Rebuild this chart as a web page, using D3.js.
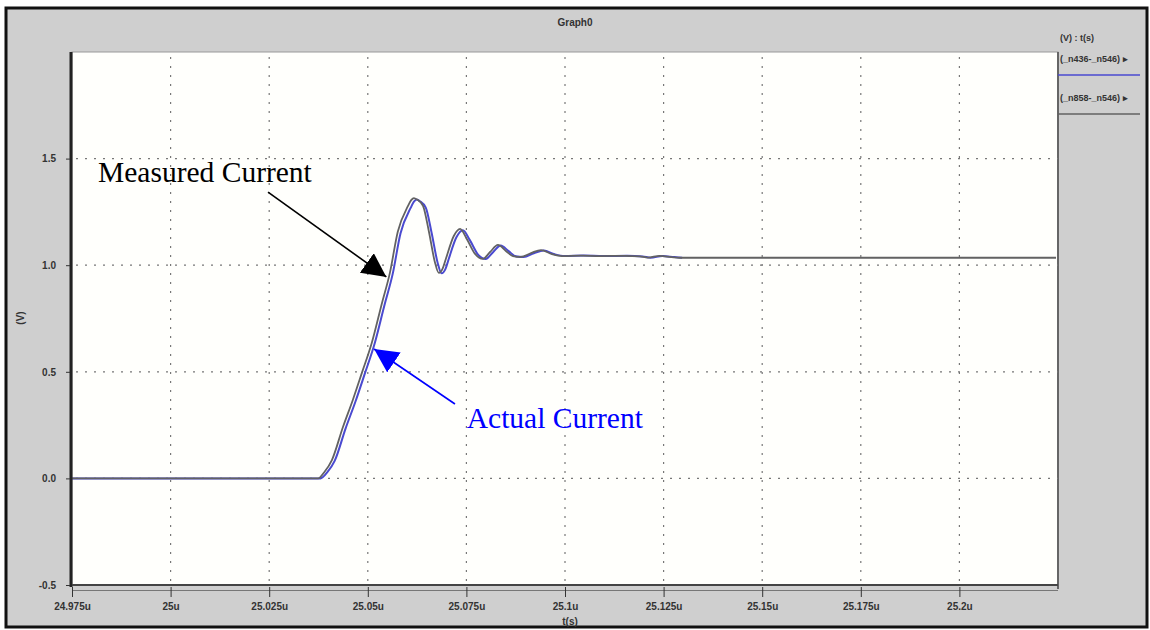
<!DOCTYPE html>
<html lang="en">
<head>
    <meta charset="UTF-8"/>
    <title>Graph0</title>
    <script src="https://d3js.org/d3.v7.min.js"></script>
    <style>
        body { margin: 0; background: white; }
        .tick-label { font-family: "Liberation Sans", Arial, sans-serif; font-size: 10px; font-weight: bold; fill: #333; }
        .note { font-family: "Liberation Serif", "Times New Roman", serif; font-size: 29.5px; }
    </style>
</head>
<body>
<svg id="chart" width="1150" height="630"></svg>
<script>
    // x tick values (microseconds) and their labels
    const xTicks = [24.975, 25.0, 25.025, 25.05, 25.075, 25.1, 25.125, 25.15, 25.175, 25.2];
    const xLabels = ["24.975u", "25u", "25.025u", "25.05u", "25.075u", "25.1u", "25.125u", "25.15u", "25.175u", "25.2u"];
    const yTicks = [-0.5, 0.0, 0.5, 1.0, 1.5];
    const yLabels = ["-0.5", "0.0", "0.5", "1.0", "1.5"];

    // (_n858-_n546) : measured current (gray)
    const measuredT = [24.975, 25.0374, 25.0390, 25.0409, 25.0437, 25.0462, 25.0485, 25.0510, 25.0536, 25.0556,
        25.0576, 25.0602, 25.0610, 25.0617, 25.0625, 25.0640, 25.0655, 25.0670, 25.0680, 25.0690,
        25.0698, 25.0718, 25.0734, 25.0751, 25.0772, 25.0792, 25.0810, 25.0830, 25.0850, 25.0868,
        25.0888, 25.0914, 25.0939, 25.0967, 25.0992, 25.1040, 25.1090, 25.1150, 25.1190, 25.1210,
        25.1240, 25.1270, 25.1290, 25.2245];
    const measuredV = [0, 0, 0.03, 0.086, 0.241, 0.368, 0.495, 0.635, 0.823, 0.964,
        1.157, 1.278, 1.305, 1.315, 1.308, 1.278, 1.157, 1.015, 0.964, 0.985,
        1.030, 1.137, 1.170, 1.123, 1.053, 1.030, 1.062, 1.095, 1.067, 1.043,
        1.039, 1.057, 1.071, 1.052, 1.043, 1.045, 1.043, 1.044, 1.041, 1.036,
        1.044, 1.038, 1.035, 1.035];

    // (_n436-_n546) : actual current (blue)
    const actualT = [24.975, 25.0380, 25.0397, 25.0416, 25.0444, 25.0469, 25.0492, 25.0517, 25.0543, 25.0563,
        25.0583, 25.0609, 25.0617, 25.0624, 25.0632, 25.0647, 25.0662, 25.0677, 25.0687, 25.0697,
        25.0705, 25.0725, 25.0741, 25.0758, 25.0779, 25.0799, 25.0817, 25.0837, 25.0857, 25.0875,
        25.0895, 25.0921, 25.0946, 25.0974, 25.0999, 25.1047, 25.1097, 25.1157, 25.1197, 25.1217,
        25.1247, 25.1277, 25.1297];
    const actualV = [0, 0, 0.028, 0.082, 0.236, 0.362, 0.489, 0.630, 0.818, 0.958,
        1.150, 1.270, 1.298, 1.308, 1.300, 1.270, 1.150, 1.012, 0.962, 0.983,
        1.028, 1.132, 1.164, 1.120, 1.051, 1.029, 1.060, 1.092, 1.066, 1.042,
        1.038, 1.056, 1.069, 1.051, 1.043, 1.045, 1.043, 1.044, 1.041, 1.035,
        1.043, 1.038, 1.035];

    // annotations, in data units: text anchor, arrow tail, arrow tip
    const notes = [
        {text: "Measured Current", color: "#000", tx: 24.9816, tv: 1.39, x0: 25.0247, v0: 1.343, x1: 25.0547, v1: 0.945},
        {text: "Actual Current", color: "#0000ff", tx: 25.0751, tv: 0.236, x0: 25.0721, v0: 0.349, x1: 25.0516, v1: 0.607}
    ];

    const svg = d3.select("#chart");

    // gray panel with black frame
    svg.append("rect")
        .attr("x", 6).attr("y", 8).attr("width", 1141).attr("height", 619)
        .attr("fill", "#cfcfcf").attr("stroke", "#111").attr("stroke-width", 3);

    const pLeft = 72, pRight = 1058, pTop = 52, pBottom = 585;
    const x = d3.scaleLinear().domain([24.975, 25.225]).range([pLeft, pRight]);
    const y = d3.scaleLinear().domain([-0.5, 2.0]).range([pBottom, pTop]);

    // plot area
    svg.append("rect")
        .attr("x", pLeft).attr("y", pTop).attr("width", pRight - pLeft).attr("height", pBottom - pTop)
        .attr("fill", "#fffffc").attr("stroke", "#999").attr("stroke-width", 1);
    svg.append("line").attr("x1", pRight).attr("x2", pRight).attr("y1", pTop).attr("y2", pBottom + 4)
        .attr("stroke", "#666").attr("stroke-width", 2);

    // grid
    const grid = svg.append("g").attr("stroke", "#777").attr("stroke-width", 1.2).attr("stroke-dasharray", "2,7");
    grid.selectAll(".vg").data(xTicks.slice(1)).join("line")
        .attr("x1", d => x(d)).attr("x2", d => x(d)).attr("y1", pTop + 3).attr("y2", pBottom)
        .attr("stroke-dashoffset", -2);
    grid.selectAll(".hg").data(yTicks.slice(1)).join("line")
        .attr("x1", pLeft + 4).attr("x2", pRight).attr("y1", d => y(d)).attr("y2", d => y(d));

    // series
    const line = d3.line().x(d => x(d[0])).y(d => y(d[1])).curve(d3.curveMonotoneX);
    svg.append("path")
        .attr("d", line(actualT.map((t, i) => [t, actualV[i]])))
        .attr("fill", "none").attr("stroke", "#4a4ad0").attr("stroke-width", 2);
    svg.append("path")
        .attr("d", line(measuredT.map((t, i) => [t, measuredV[i]])))
        .attr("fill", "none").attr("stroke", "#626262").attr("stroke-width", 1.8);

    // axis frame lines
    svg.append("line").attr("x1", pLeft - 1).attr("x2", pLeft - 1).attr("y1", pTop).attr("y2", pBottom + 2)
        .attr("stroke", "#222").attr("stroke-width", 3);
    svg.append("line").attr("x1", pLeft).attr("x2", pRight).attr("y1", pBottom).attr("y2", pBottom)
        .attr("stroke", "#444").attr("stroke-width", 2);

    // Y axis
    const yAxis = svg.append("g")
        .attr("transform", `translate(${pLeft - 2}, 0)`)
        .call(d3.axisLeft(y).tickValues(yTicks).tickFormat((d, i) => yLabels[i]).tickSize(4).tickPadding(10));
    yAxis.select(".domain").remove();
    yAxis.selectAll("line").attr("stroke", "#333");
    yAxis.selectAll("text").attr("class", "tick-label");

    // X axis
    const xAxis = svg.append("g")
        .attr("transform", `translate(0, ${pBottom + 5})`)
        .call(d3.axisBottom(x).tickValues(xTicks).tickFormat((d, i) => xLabels[i]).tickSizeOuter(0).tickSize(7).tickPadding(6));
    xAxis.select(".domain").attr("stroke", "#777").attr("d", `M${pLeft},0.5H${pRight}`);
    xAxis.selectAll("line").attr("stroke", "#333").attr("y1", -3);
    xAxis.selectAll("text").attr("class", "tick-label");

    // titles
    svg.append("text").attr("x", 575).attr("y", 26).attr("text-anchor", "middle")
        .attr("class", "tick-label").text("Graph0");
    svg.append("text").attr("x", 570).attr("y", 625).attr("text-anchor", "middle")
        .attr("class", "tick-label").text("t(s)");
    svg.append("text").attr("transform", "translate(24, 318) rotate(-90)").attr("text-anchor", "middle")
        .attr("class", "tick-label").text("(V)");

    // legend
    const legend = svg.append("g").attr("transform", "translate(1060, 0)");
    legend.append("text").attr("x", 0).attr("y", 41).attr("class", "tick-label").style("font-size", "9px").text("(V) : t(s)");
    const legendItems = [
        {name: "(_n436-_n546)", color: "#4a4ad0", y: 62},
        {name: "(_n858-_n546)", color: "#626262", y: 101}
    ];
    legendItems.forEach(item => {
        legend.append("text").attr("x", 0).attr("y", item.y).attr("class", "tick-label")
            .style("font-size", "9px").text(item.name + " \u25B8");
        legend.append("line").attr("x1", -2).attr("x2", 80).attr("y1", item.y + 13).attr("y2", item.y + 13)
            .attr("stroke", item.color).attr("stroke-width", 1.5);
    });

    // annotation arrows and texts
    const defs = svg.append("defs");
    notes.forEach((n, i) => {
        defs.append("marker").attr("id", `head${i}`)
            .attr("viewBox", "0 0 10 10").attr("refX", 10).attr("refY", 5)
            .attr("markerWidth", 24).attr("markerHeight", 24).attr("markerUnits", "userSpaceOnUse")
            .attr("orient", "auto")
            .append("path").attr("d", "M0,0L10,5L0,10Z").attr("fill", n.color);
        svg.append("line")
            .attr("x1", x(n.x0)).attr("y1", y(n.v0)).attr("x2", x(n.x1)).attr("y2", y(n.v1))
            .attr("stroke", n.color).attr("stroke-width", 1.6)
            .attr("marker-end", `url(#head${i})`);
        svg.append("text").attr("class", "note")
            .attr("x", x(n.tx)).attr("y", y(n.tv)).attr("fill", n.color).text(n.text);
    });
</script>
</body>
</html>
